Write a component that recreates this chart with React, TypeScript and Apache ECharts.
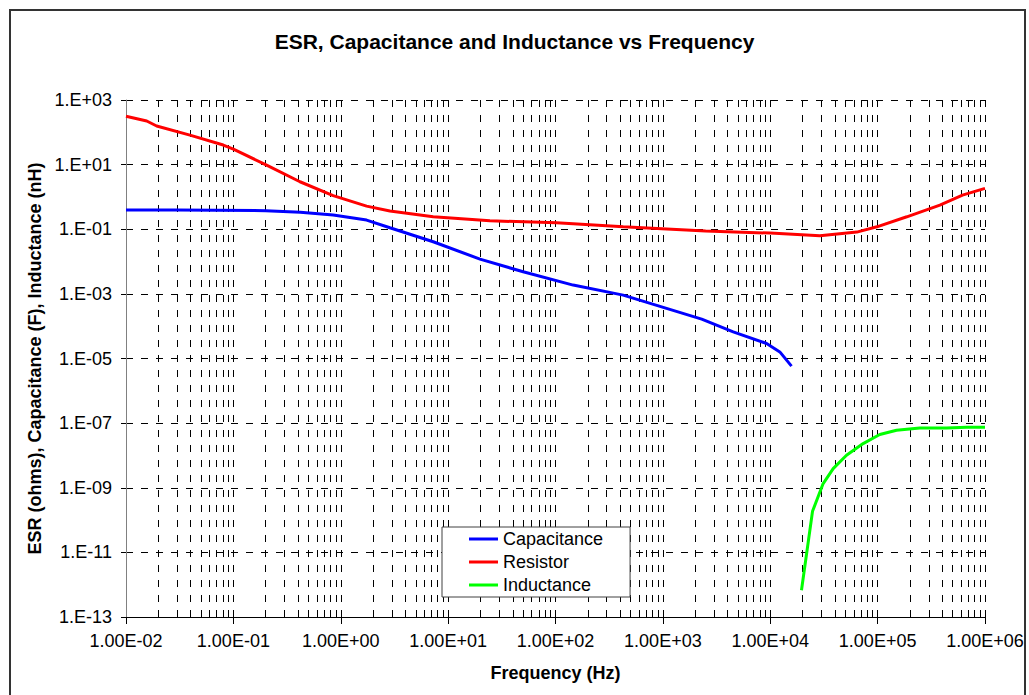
import { useEffect, useRef } from 'react';
import * as echarts from 'echarts';

// ---- data ----
const capacitanceFreq = [0.01, 0.03, 0.2, 0.42, 0.85, 1.74, 2.87, 3.56, 7.26, 19.8, 50, 146, 427, 2300, 4520, 9250, 12280, 15780];
const capacitanceValues = [0.393, 0.395, 0.375, 0.333, 0.274, 0.192, 0.111, 0.088, 0.041, 0.0119, 0.00482, 0.00187, 9.15e-4, 1.65e-4, 6.67e-5, 2.92e-5, 1.6e-5, 5.8e-6];

const resistorFreq = [0.01, 0.0156, 0.0193, 0.0394, 0.0805, 0.1, 0.204, 0.417, 0.85, 1.74, 2.87, 7.26, 24.5, 102, 427, 2500, 10000, 28970, 64000, 98400, 187000, 380000, 617000, 1000000];
const resistorValues = [316, 224, 157, 82, 40.4, 30, 9.7, 2.95, 1.1, 0.52, 0.365, 0.243, 0.183, 0.158, 0.119, 0.088, 0.076, 0.0627, 0.0817, 0.119, 0.243, 0.56, 1.14, 1.84];

const inductanceFreq = [19540, 24760, 31100, 38550, 51300, 73300, 104700, 150000, 247000, 437000, 676000, 1000000];
const inductanceValues = [6.7e-13, 1.87e-10, 1.35e-9, 3.9e-9, 1.01e-8, 2.33e-8, 4.43e-8, 6.03e-8, 7.1e-8, 7.1e-8, 7.4e-8, 7.4e-8];

const seriesNames = ['Capacitance', 'Resistor', 'Inductance'];
const seriesColors = ['#0000FF', '#FF0000', '#00FF00'];

const xTickLabels = ['1.00E-02', '1.00E-01', '1.00E+00', '1.00E+01', '1.00E+02', '1.00E+03', '1.00E+04', '1.00E+05', '1.00E+06'];
const yTickExponents = [-13, -11, -9, -7, -5, -3, -1, 1, 3];
const yTickLabels = ['1.E-13', '1.E-11', '1.E-09', '1.E-07', '1.E-05', '1.E-03', '1.E-01', '1.E+01', '1.E+03'];

const minorDecades = [0.01, 0.1, 1, 10, 100, 1000, 10000, 100000];
const minorFactors = [2, 3, 4, 5, 6, 7, 8, 9];

const FONT = '"Liberation Sans", Arial, sans-serif';

export default function App() {
  const ref = useRef<HTMLDivElement>(null);

  useEffect(() => {
    if (!ref.current) return;
    const chart = echarts.init(ref.current, undefined, { renderer: 'svg' });

    const pairs = (fs: number[], vs: number[]) => fs.map((f, i) => [f, vs[i]]);
    const dash = [7, 8];

    const minorLines: any[] = [];
    minorDecades.forEach((d) => {
      minorFactors.forEach((m) => {
        const v = m * d;
        minorLines.push([{ coord: [v, 1e3] }, { coord: [v, 1e-13] }]);
      });
    });

    const option: any = {
      animation: false,
      backgroundColor: '#ffffff',
      title: {
        text: 'ESR, Capacitance and Inductance vs Frequency',
        left: 'center',
        top: 26,
        textStyle: { fontSize: 21, fontWeight: 'bold', color: '#000', fontFamily: FONT },
      },
      grid: { left: 126, right: 44, top: 100, bottom: 78, containLabel: false },
      legend: {
        data: seriesNames,
        orient: 'vertical',
        left: 442,
        top: 527,
        padding: [3, 27, 3, 27],
        itemGap: 5,
        itemWidth: 29,
        itemHeight: 3,
        icon: 'rect',
        borderColor: '#404040',
        borderWidth: 1,
        backgroundColor: '#ffffff',
        textStyle: { fontSize: 18, color: '#000', fontFamily: FONT },
      },
      xAxis: {
        type: 'log',
        logBase: 10,
        min: 0.01,
        max: 1e6,
        name: 'Frequency (Hz)',
        nameLocation: 'middle',
        nameGap: 47,
        nameTextStyle: { fontSize: 18, fontWeight: 'bold', color: '#000', fontFamily: FONT },
        axisLine: { show: true, onZero: false, lineStyle: { color: '#000', width: 1 } },
        axisTick: { show: true, length: 7, lineStyle: { color: '#000' } },
        axisLabel: {
          fontSize: 18,
          color: '#000',
          fontFamily: FONT,
          margin: 15,
          formatter: (v: number) => xTickLabels[Math.round(Math.log10(v)) + 2] ?? '',
        },
        splitLine: { show: true, lineStyle: { color: '#000', width: 1, type: dash } },
        minorTick: { show: false },
      },
      yAxis: [
        {
          type: 'log',
          logBase: 10,
          min: 1e-13,
          max: 1e3,
          show: false,
          axisLine: { onZero: false },
          splitLine: { show: false },
        },
        {
          type: 'value',
          min: -13,
          max: 3,
          interval: 2,
          position: 'left',
          name: 'ESR (ohms), Capacitance (F), Inductance (nH)',
          nameLocation: 'middle',
          nameGap: 80,
          nameTextStyle: { fontSize: 18, fontWeight: 'bold', color: '#000', fontFamily: FONT },
          axisLine: { show: true, onZero: false, lineStyle: { color: '#808080', width: 1 } },
          axisTick: { show: true, length: 5, lineStyle: { color: '#000' } },
          axisLabel: {
            fontSize: 18,
            color: '#000',
            fontFamily: FONT,
            margin: 14,
            formatter: (v: number) => {
              const i = yTickExponents.indexOf(Math.round(v));
              return i >= 0 ? yTickLabels[i] : '';
            },
          },
          splitLine: { show: true, lineStyle: { color: '#000', width: 1, type: dash } },
        },
      ],
      graphic: [
        {
          type: 'rect',
          silent: true,
          shape: { x: 10, y: 10, width: 1015, height: 700 },
          style: { fill: 'none', stroke: '#333', lineWidth: 2 },
        },
      ],
      series: [
        {
          name: 'minor-grid',
          type: 'line',
          xAxisIndex: 0,
          yAxisIndex: 0,
          data: [],
          silent: true,
          markLine: {
            silent: true,
            z: 1,
            symbol: ['none', 'none'],
            label: { show: false },
            emphasis: { disabled: true },
            lineStyle: { color: '#000', width: 1, type: dash },
            data: minorLines,
          },
        },
        {
          name: seriesNames[0],
          type: 'line',
          yAxisIndex: 0,
          symbol: 'none',
          data: pairs(capacitanceFreq, capacitanceValues),
          lineStyle: { color: seriesColors[0], width: 3 },
          itemStyle: { color: seriesColors[0] },
        },
        {
          name: seriesNames[1],
          type: 'line',
          yAxisIndex: 0,
          symbol: 'none',
          data: pairs(resistorFreq, resistorValues),
          lineStyle: { color: seriesColors[1], width: 3 },
          itemStyle: { color: seriesColors[1] },
        },
        {
          name: seriesNames[2],
          type: 'line',
          yAxisIndex: 0,
          symbol: 'none',
          data: pairs(inductanceFreq, inductanceValues),
          lineStyle: { color: seriesColors[2], width: 3 },
          itemStyle: { color: seriesColors[2] },
        },
      ],
    };

    chart.setOption(option);
    return () => chart.dispose();
  }, []);

  return (
    <div
      ref={ref}
      style={{ position: 'absolute', left: 0, top: 0, width: 1029, height: 695, background: '#fff' }}
    />
  );
}
